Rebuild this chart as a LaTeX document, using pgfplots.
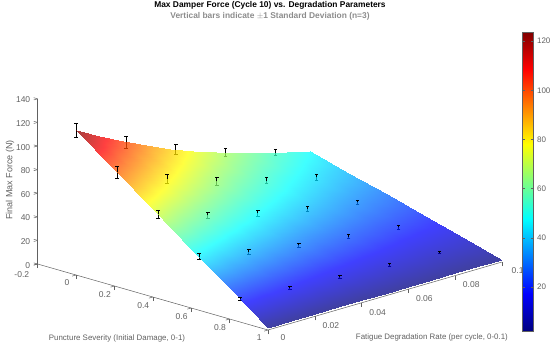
\documentclass[border=0pt]{standalone}
\usepackage{fontspec}
\setmainfont{Liberation Sans}
\usepackage{pgfplots}
\pgfplotsset{compat=1.18}
\definecolor{axgray}{gray}{0.38}
\definecolor{subgray}{gray}{0.55}
\pgfplotstableread{
P F Z E
0 0 123 5.9
0 0.02133 100.4 5.1
0 0.04267 82 4.1
0 0.064 67 3.4
0 0.08533 54.7 2.8
0.2135 0 97.2 4.9
0.2135 0.02133 79.4 4.0
0.2135 0.04267 64.9 3.2
0.2135 0.064 53.1 2.7
0.2135 0.08533 43.5 2.3
0.427 0 71.3 3.6
0.427 0.02133 58.4 2.5
0.427 0.04267 47.8 2.4
0.427 0.064 39.2 2.1
0.427 0.08533 32.2 1.7
0.6405 0 45.5 2.4
0.6405 0.02133 37.4 1.9
0.6405 0.04267 30.8 1.7
0.6405 0.064 25.4 1.7
0.6405 0.08533 21 1.4
0.854 0 19.7 1.1
0.854 0.02133 16.4 1.3
0.854 0.04267 13.7 1.0
0.854 0.064 11.5 1.0
0.854 0.08533 9.7 0.8
}\bars
\begin{document}
\begin{tikzpicture}
\path[use as bounding box] (0pt,0pt) rectangle (550pt,349pt);
\begin{axis}[
  at={(76pt,74pt)}, anchor=origin,
  x={(192pt,-55pt)}, y={(2340pt,680pt)}, z={(0pt,1.18pt)},
  xmin=-0.2, xmax=1, ymin=0, ymax=0.1, zmin=0, zmax=140,
  axis x line=bottom, axis y line=left, axis z line=left,
  axis line style={axgray, line width=0.5pt, -},
  tick style={axgray, line width=0.5pt},
  tick align=outside, major tick length=4pt,
  xtick={-0.2,0,0.2,0.4,0.6,0.8,1},
  xticklabels={\raisebox{-3pt}[6pt][0pt]{\makebox[0pt][r]{-0.2}}\hspace{-3pt},0,0.2,0.4,0.6,0.8,1},
  ytick={0,0.02,0.04,0.06,0.08,0.1},
  yticklabels={0,0.02,0.04,0.06,0.08,0.1},
  ztick={0,20,...,140},
  ticklabel style={font=\fontsize{8.5}{10}\selectfont, text=axgray},
  yticklabel style={xshift=6pt},
  /pgf/number format/assume math mode=true,
  colormap/jet,
  point meta min=2.1, point meta max=123.7,
  colorbar,
  colorbar style={
    at={(parent axis.origin)}, anchor=south west,
    xshift=437.7pt, yshift=-56pt,
    width=11.3pt, height=299pt,
    ytick={20,40,60,80,100,120},
    yticklabel pos=right,
    ticklabel style={font=\fontsize{8}{10}\selectfont, text=axgray},
    tick style={axgray, line width=0.4pt},
    major tick length=2.5pt,
    axis line style={axgray, line width=0.3pt},
    /pgf/number format/assume math mode=true,
  },
  xlabel={Puncture Severity (Initial Damage, 0-1)},
  ylabel={Fatigue Degradation Rate (per cycle, 0-0.1)},
  zlabel={Final Max Force (N)},
  x label style={font=\fontsize{7.9}{10}\selectfont, text=axgray, at={(axis cs:0.2135,0,-43.5)}, anchor=center},
  y label style={font=\fontsize{7.9}{10}\selectfont, text=axgray, at={(axis cs:0,0.1521,-141)}, anchor=center},
  every axis z label/.style={font=\fontsize{9}{10}\selectfont, text=axgray, at={(axis cs:-0.344,0,64.6)}, anchor=center, rotate=90},
  title={\textbf{Max Damper Force (Cycle 10) vs. Degradation Parameters}\\[1pt]\textcolor{subgray}{\textbf{Vertical bars indicate $\pm$1 Standard Deviation (n=3)}}},
  title style={at={(axis cs:0,0.0829,171)}, anchor=center, align=center, font=\fontsize{8.4}{10}\selectfont},
  clip=false,
]
% lower halves of the error bars, seen through the surface
\addplot3[only marks, mark size=0pt, forget plot,
  error bars/z dir=minus, error bars/z explicit,
  error bars/error mark=|,
  error bars/error bar style={black, line width=0.8pt},
  error bars/error mark options={black, line width=0.6pt, mark size=1.7pt}]
  table[x=P, y=F, z=Z, z error=E] {\bars};
% surface
\addplot3[surf, shader=interp, opacity=0.75, mesh/ordering=y varies, mesh/rows=11, mesh/cols=6, forget plot,
  point meta=z] table[x=P, y=F, z=Z] {
P F Z
0 0 123
0 0.01 111.9
0 0.02 101.7
0 0.03 92.5
0 0.04 84.1
0 0.05 76.5
0 0.06 69.6
0 0.07 63.3
0 0.08 57.5
0 0.09 52.3
0 0.1 47.6
0.2 0 98.8
0.2 0.01 89.9
0.2 0.02 81.8
0.2 0.03 74.4
0.2 0.04 67.7
0.2 0.05 61.6
0.2 0.06 56.1
0.2 0.07 51.0
0.2 0.08 46.4
0.2 0.09 42.2
0.2 0.1 38.5
0.4 0 74.6
0.4 0.01 67.9
0.4 0.02 61.8
0.4 0.03 56.3
0.4 0.04 51.3
0.4 0.05 46.7
0.4 0.06 42.6
0.4 0.07 38.8
0.4 0.08 35.3
0.4 0.09 32.2
0.4 0.1 29.4
0.6 0 50.4
0.6 0.01 46.0
0.6 0.02 41.9
0.6 0.03 38.2
0.6 0.04 34.8
0.6 0.05 31.8
0.6 0.06 29.0
0.6 0.07 26.5
0.6 0.08 24.2
0.6 0.09 22.1
0.6 0.1 20.2
0.8 0 26.2
0.8 0.01 24.0
0.8 0.02 21.9
0.8 0.03 20.1
0.8 0.04 18.4
0.8 0.05 16.9
0.8 0.06 15.5
0.8 0.07 14.3
0.8 0.08 13.1
0.8 0.09 12.1
0.8 0.1 11.1
1 0 2
1 0.01 2
1 0.02 2
1 0.03 2
1 0.04 2
1 0.05 2
1 0.06 2
1 0.07 2
1 0.08 2
1 0.09 2
1 0.1 2
};
% upper halves of the error bars, in front of the surface
\addplot3[only marks, mark size=0pt, forget plot,
  error bars/z dir=plus, error bars/z explicit,
  error bars/error mark=|,
  error bars/error bar style={black, line width=0.8pt},
  error bars/error mark options={black, line width=0.6pt, mark size=1.7pt}]
  table[x=P, y=F, z=Z, z error=E] {\bars};
\end{axis}
\end{tikzpicture}
\end{document}
